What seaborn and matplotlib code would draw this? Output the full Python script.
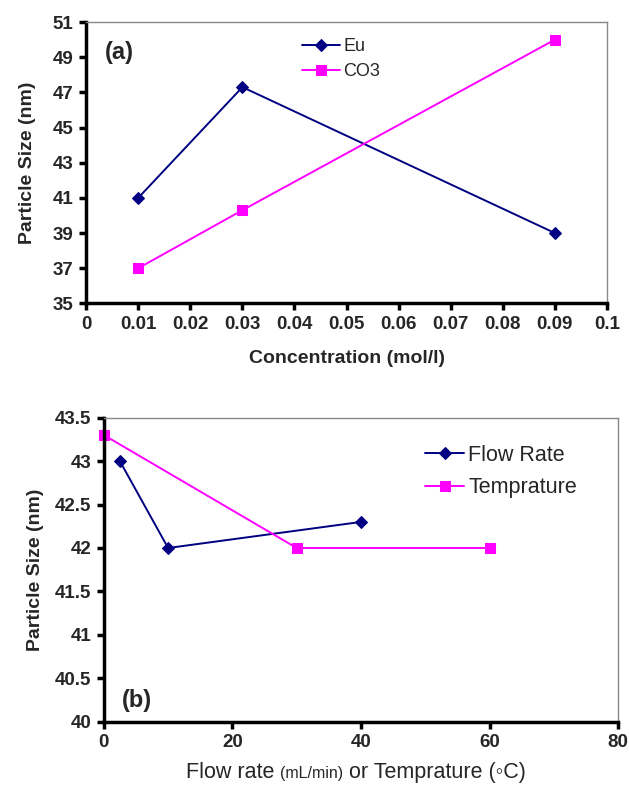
import matplotlib
matplotlib.use("Agg")
import matplotlib.pyplot as plt
import seaborn as sns
import pandas as pd
from matplotlib.offsetbox import TextArea, HPacker, AnchoredOffsetbox

sns.set_style("white")
plt.rcParams['font.family'] = ['Liberation Sans', 'DejaVu Sans']

# Panel (a)
conc = [0.01, 0.03, 0.09]
eu_size = [41.0, 47.3, 39.0]
co3_size = [37.0, 40.3, 50.0]
a_xticks = [0, 0.01, 0.02, 0.03, 0.04, 0.05, 0.06, 0.07, 0.08, 0.09, 0.1]
a_xticklabels = ["0", "0.01", "0.02", "0.03", "0.04", "0.05", "0.06", "0.07", "0.08", "0.09", "0.1"]
a_yticks = [35, 37, 39, 41, 43, 45, 47, 49, 51]

# Panel (b)
flow_x = [2.5, 10, 40]
flow_size = [43.0, 42.0, 42.3]
temp_x = [0, 30, 60]
temp_size = [43.3, 42.0, 42.0]
b_xticks = [0, 20, 40, 60, 80]
b_yticks = [40, 40.5, 41, 41.5, 42, 42.5, 43, 43.5]
b_yticklabels = ["40", "40.5", "41", "41.5", "42", "42.5", "43", "43.5"]

NAVY = "#000080"
MAG = "#FF00FF"
TICK_FS = 13.5
LABEL_FS = 14

fig = plt.figure(figsize=(6.29, 7.88), dpi=100)
ax1 = fig.add_axes([0.137, 0.615, 0.828, 0.357])
ax2 = fig.add_axes([0.165, 0.084, 0.818, 0.386])

def style_axes(ax):
    for s in ["top", "right"]:
        ax.spines[s].set_color("#888888")
        ax.spines[s].set_linewidth(1.0)
    for s in ["left", "bottom"]:
        ax.spines[s].set_color("black")
        ax.spines[s].set_linewidth(2.5)
    ax.tick_params(axis="both", direction="out", length=5, width=2.5, color="black",
                   left=True, bottom=True, pad=4)

def draw(ax, x, y, color, marker, ms, label):
    df = pd.DataFrame({"x": x, "y": y})
    sns.lineplot(data=df, x="x", y="y", ax=ax, color=color, marker=marker, markersize=ms,
                 markeredgecolor=color, linewidth=1.4, label=label, clip_on=False)

draw(ax1, conc, eu_size, NAVY, "D", 6, "Eu")
draw(ax1, conc, co3_size, MAG, "s", 7, "CO3")
ax1.set_xlim(0, 0.1)
ax1.set_ylim(35, 51)
ax1.set_xticks(a_xticks)
ax1.set_xticklabels(a_xticklabels, fontsize=TICK_FS, fontweight="bold")
ax1.set_yticks(a_yticks)
ax1.set_yticklabels([str(v) for v in a_yticks], fontsize=TICK_FS, fontweight="bold")
ax1.set_xlabel("Concentration (mol/l)", fontsize=LABEL_FS, fontweight="bold", labelpad=12)
ax1.set_ylabel("Particle Size (nm)", fontsize=LABEL_FS, fontweight="bold", labelpad=12)
style_axes(ax1)
ax1.legend(loc="upper left", bbox_to_anchor=(0.383, 1.0), frameon=False, fontsize=13,
           handlelength=2.1, handletextpad=0.2, labelspacing=0.45)
ax1.text(0.035, 0.87, "(a)", transform=ax1.transAxes, fontsize=17, fontweight="bold")

draw(ax2, flow_x, flow_size, NAVY, "D", 6, "Flow Rate")
draw(ax2, temp_x, temp_size, MAG, "s", 7, "Temprature")
ax2.set_xlim(0, 80)
ax2.set_ylim(40, 43.5)
ax2.set_xticks(b_xticks)
ax2.set_xticklabels([str(v) for v in b_xticks], fontsize=TICK_FS, fontweight="bold")
ax2.set_yticks(b_yticks)
ax2.set_yticklabels(b_yticklabels, fontsize=TICK_FS, fontweight="bold")
ax2.set_xlabel("")
ax2.set_ylabel("Particle Size (nm)", fontsize=LABEL_FS, fontweight="bold", labelpad=8)
style_axes(ax2)
ax2.legend(loc="upper left", bbox_to_anchor=(0.587, 0.975), frameon=False, fontsize=15.5,
           handlelength=1.8, handletextpad=0.2, labelspacing=0.55)
ax2.text(0.035, 0.05, "(b)", transform=ax2.transAxes, fontsize=17, fontweight="bold")

fam = ['Liberation Sans', 'DejaVu Sans']
parts = [
    TextArea("Flow rate ", textprops=dict(fontsize=15.5, family=fam)),
    TextArea("(mL/min)", textprops=dict(fontsize=11.5, family=fam)),
    TextArea(" or Temprature (\u25e6C)", textprops=dict(fontsize=15.5, family=fam)),
]
box = HPacker(children=parts, align="baseline", pad=0, sep=0)
anch = AnchoredOffsetbox(loc="lower center", child=box, frameon=False,
                         bbox_to_anchor=(0.566, 0.006), bbox_transform=fig.transFigure,
                         borderpad=0.0, pad=0.0)
fig.add_artist(anch)

fig.savefig("out.png", dpi=100)
